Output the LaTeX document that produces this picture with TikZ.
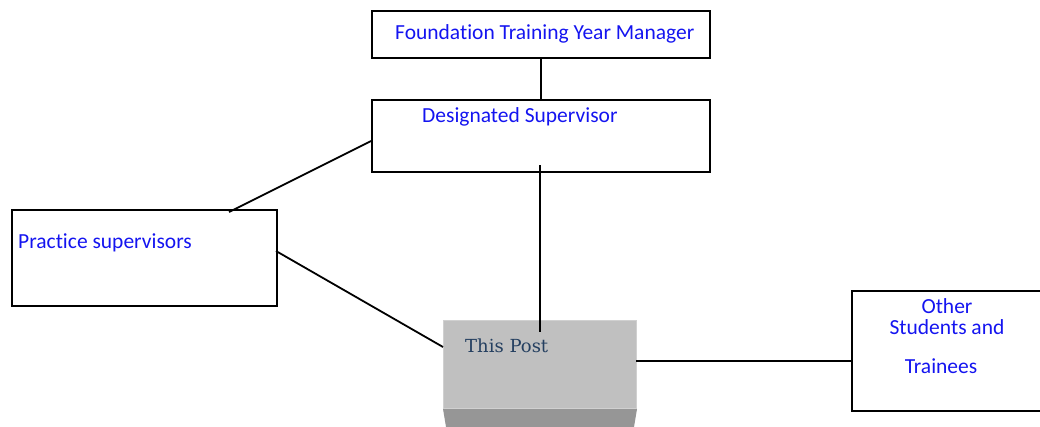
\documentclass[tikz,border=0pt]{standalone}
\usepackage{fontspec}
\setmainfont{Carlito}[Ligatures={NoCommon}]
\newfontfamily\postfont{DejaVu Serif}
\usetikzlibrary{calc}
\definecolor{txtblue}{RGB}{20,20,240}
\definecolor{postblue}{RGB}{36,63,96}
\definecolor{facegray}{RGB}{192,192,192}
\definecolor{edgegray}{RGB}{150,150,150}
\definecolor{rimgray}{RGB}{208,208,208}
\tikzset{
  orgbox/.style={draw=black, line width=2pt, line cap=round, line join=miter, inner sep=0pt, anchor=north west},
  conn/.style={draw=black, line width=1.8pt},
  lbl/.style={text=txtblue, font=\fontsize{21.5}{24}\selectfont, inner sep=0pt, anchor=west},
  lblc/.style={text=txtblue, font=\fontsize{21.5}{24}\selectfont, inner sep=0pt},
}
\begin{document}
\begin{tikzpicture}[x=1pt,y=-1pt]
\useasboundingbox (0,0) rectangle (1040,426);
% boxes
\node[orgbox, minimum width=338pt, minimum height=47pt] (ftym) at (371,10) {};
\node[orgbox, minimum width=338pt, minimum height=72pt] (ds) at (371,99) {};
\node[orgbox, minimum width=265pt, minimum height=96pt] (ps) at (11,209) {};
\node[orgbox, minimum width=200pt, minimum height=120pt] (ot) at (851,290) {};
% This Post block
\node[fill=facegray, draw=rimgray, line width=1pt, inner sep=0pt, minimum width=193pt, minimum height=88pt, anchor=north west] (tp) at (443,320) {};
\fill[edgegray] (tp.south west) -- (tp.south east) -- ++(-3,18) -- ($(tp.south west)+(3,18)$) -- cycle;
% texts
\node[lbl] (t1) at (395,34) {Foundation Training Year Manager};
\node[lbl] (t2) at (422,117) {Designated Supervisor};
\node[lbl] (t3) at (18,243) {Practice supervisors};
\node[lblc] (t4) at (947,306) {Other};
\node[lblc] (t5) at (947,327) {Students and};
\node[lblc] (t6) at (941,366) {Trainees};
\node[text=postblue, font=\postfont\fontsize{18}{21}\selectfont, inner sep=0pt, anchor=west] (t7) at (465,346) {This Post};
% connector end points
\coordinate (dsin) at (540,165);
\coordinate (tpin) at (540,332);
\coordinate (dsl) at (371,141);
\coordinate (pstop) at (229,212);
\coordinate (psr) at (276,251);
\coordinate (tpl) at (443,347);
\coordinate (tpr) at (636,361);
\coordinate (otl) at (851,361);
% connectors
\draw[conn] (ftym.south) -- (ds.north);
\draw[conn] (dsin) -- (tpin);
\draw[conn] (dsl) -- (pstop);
\draw[conn] (psr) -- (tpl);
\draw[conn] (tpr) -- (otl);
\end{tikzpicture}
\end{document}
